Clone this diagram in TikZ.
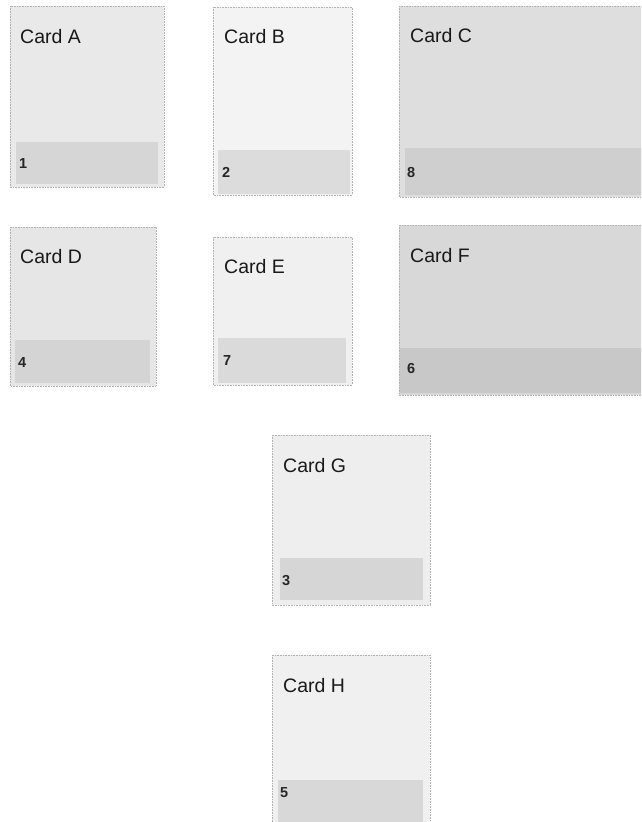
\documentclass[tikz,border=0pt]{standalone}
\usepackage{fontspec}
\setmainfont{Liberation Sans}
\definecolor{gA}{RGB}{233,233,233}\definecolor{bA}{RGB}{214,214,214}
\definecolor{gB}{RGB}{243,243,243}\definecolor{bB}{RGB}{220,220,220}
\definecolor{gC}{RGB}{222,222,222}\definecolor{bC}{RGB}{207,207,207}
\definecolor{gD}{RGB}{230,230,230}\definecolor{bD}{RGB}{212,212,212}
\definecolor{gE}{RGB}{240,240,240}\definecolor{bE}{RGB}{218,218,218}
\definecolor{gF}{RGB}{216,216,216}\definecolor{bF}{RGB}{200,200,200}
\definecolor{gG}{RGB}{238,238,238}\definecolor{bG}{RGB}{214,214,214}
\definecolor{gH}{RGB}{240,240,240}\definecolor{bH}{RGB}{216,216,216}
\begin{document}
\begin{tikzpicture}[x=1pt,y=-1pt,
  cardbody/.style={draw=black!30, densely dotted, line width=0.6pt},
  cardtitle/.style={anchor=base west, inner sep=0pt, font=\fontsize{19.5}{21}\selectfont, text=black!90},
  cardnum/.style={anchor=base west, inner sep=0pt, font=\bfseries\fontsize{14.5}{16}\selectfont, text=black!85}]
\useasboundingbox (0,0) rectangle (641,822);
\fill[white] (0,0) rectangle (641,822);
\begin{scope}
\clip (0,0) rectangle (641,822);
% Card A
\filldraw[cardbody, fill=gA] (10,6) rectangle (164,187);
\fill[bA] (16,142) rectangle (158,184);
\node[cardtitle] (tA) at (20,43) {Card A};
\node[cardnum] (nA) at (19,168) {1};
% Card B
\filldraw[cardbody, fill=gB] (213,7) rectangle (352,195);
\fill[bB] (218,150) rectangle (350,194);
\node[cardtitle] (tB) at (224,43) {Card B};
\node[cardnum] (nB) at (222,177) {2};
% Card C
\filldraw[cardbody, fill=gC] (399,6) rectangle (650,197);
\fill[bC] (405,148) rectangle (650,195);
\node[cardtitle] (tC) at (410,42) {Card C};
\node[cardnum] (nC) at (407,177) {8};
% Card D
\filldraw[cardbody, fill=gD] (10,227) rectangle (156,386);
\fill[bD] (15,340) rectangle (150,383);
\node[cardtitle] (tD) at (20,263) {Card D};
\node[cardnum] (nD) at (18,367) {4};
% Card E
\filldraw[cardbody, fill=gE] (213,237) rectangle (352,385);
\fill[bE] (218,338) rectangle (346,383);
\node[cardtitle] (tE) at (224,273) {Card E};
\node[cardnum] (nE) at (223,365) {7};
% Card F
\filldraw[cardbody, fill=gF] (399,225) rectangle (650,395);
\fill[bF] (400,348) rectangle (650,393);
\node[cardtitle] (tF) at (410,262) {Card F};
\node[cardnum] (nF) at (407,373) {6};
% Card G
\filldraw[cardbody, fill=gG] (272,435) rectangle (430,605);
\fill[bG] (280,558) rectangle (423,600);
\node[cardtitle] (tG) at (283,472) {Card G};
\node[cardnum] (nG) at (282,585) {3};
% Card H
\filldraw[cardbody, fill=gH] (272,655) rectangle (430,830);
\fill[bH] (278,780) rectangle (423,830);
\node[cardtitle] (tH) at (283,692) {Card H};
\node[cardnum] (nH) at (280,797) {5};
\end{scope}
\end{tikzpicture}
\end{document}
